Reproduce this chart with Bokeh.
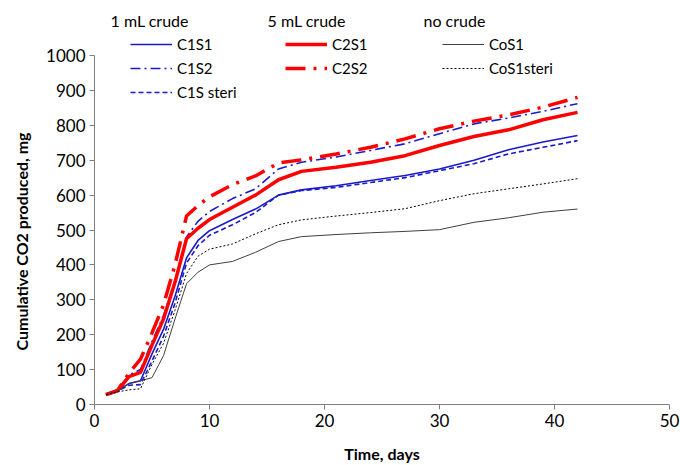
from bokeh.plotting import figure
from bokeh.models import Legend, Label, Range1d, SingleIntervalTicker, Title
from bokeh.embed import file_html
from bokeh.resources import INLINE

# ---- data ----
days = [1, 2, 3, 4, 5, 6, 7, 8, 9, 10, 12, 14, 16, 18, 21, 24, 27, 30, 33, 36, 39, 42]

c1s1 = [28, 40, 60, 68, 145, 215, 310, 420, 470, 498, 530, 560, 600, 615, 627, 642, 656, 675, 700, 730, 752, 771]
c1s2 = [28, 40, 85, 100, 180, 255, 355, 480, 525, 553, 590, 618, 675, 694, 709, 728, 747, 776, 804, 821, 840, 862]
c1s_steri = [28, 38, 55, 57, 125, 195, 290, 405, 455, 485, 515, 550, 600, 613, 622, 636, 650, 670, 690, 718, 737, 756]

c2s1 = [28, 40, 80, 92, 170, 245, 350, 475, 505, 530, 565, 600, 644, 668, 680, 694, 713, 742, 768, 787, 816, 837]
c2s2 = [28, 40, 90, 130, 205, 285, 400, 540, 570, 595, 630, 655, 692, 701, 718, 737, 761, 790, 812, 830, 852, 880]

cos1 = [28, 38, 60, 68, 77, 140, 245, 346, 379, 400, 410, 436, 467, 481, 487, 492, 496, 501, 522, 535, 551, 560]
cos1_steri = [28, 36, 42, 45, 115, 175, 270, 375, 425, 445, 460, 489, 515, 529, 540, 550, 561, 584, 604, 618, 632, 647]

group_titles = ["1 mL crude", "5 mL crude", "no crude"]
x_label = "Time, days"
y_label = "Cumulative CO2 produced, mg"

FONT = "Lato"
BLUE = "#1a1ac8"
RED = "#ff0000"

# frame spans from the top of the canvas down to the x axis (y=404 px);
# the value axis itself only covers 0..1000 (349 px)
FRAME_H = 404
Y_TOP = 1000 * FRAME_H / 349

p = figure(width=680, height=465, output_backend="svg", toolbar_location=None,
           x_range=Range1d(0, 50), y_range=Range1d(0, Y_TOP),
           min_border_left=92, min_border_right=11, min_border_top=0, min_border_bottom=61)
p.xgrid.visible = False
p.ygrid.visible = False
p.outline_line_color = None
p.background_fill_color = "white"
p.border_fill_color = "white"

r11 = p.line(days, c1s1, line_color=BLUE, line_width=1.6)
r12 = p.line(days, c1s2, line_color=BLUE, line_width=1.6, line_dash="10 4 2 4")
r13 = p.line(days, c1s_steri, line_color=BLUE, line_width=1.6, line_dash="5 3")
r21 = p.line(days, c2s1, line_color=RED, line_width=3.5)
r22 = p.line(days, c2s2, line_color=RED, line_width=3.5, line_dash="20 8 3 8")
r31 = p.line(days, cos1, line_color="#404040", line_width=1)
r32 = p.line(days, cos1_steri, line_color="#000000", line_width=1, line_dash="2 2")

for ax in (p.xaxis[0], p.yaxis[0]):
    ax.axis_line_color = "#808080"
    ax.major_tick_line_color = "#808080"
    ax.minor_tick_line_color = None
    ax.major_tick_in = 0
    ax.major_tick_out = 5
    ax.major_label_text_font = FONT
    ax.major_label_text_font_size = "17px"
    ax.major_label_text_color = "black"
    ax.axis_label_text_font = FONT
    ax.axis_label_text_font_size = "16px"
    ax.axis_label_text_font_style = "bold"
    ax.axis_label_text_color = "black"

p.xaxis.ticker = SingleIntervalTicker(interval=10)
p.yaxis.ticker = SingleIntervalTicker(interval=100)
p.yaxis.bounds = (0, 1000)
p.xaxis.axis_label = x_label
p.xaxis.major_label_standoff = 4
p.yaxis.major_label_standoff = 4
p.xaxis.axis_label_standoff = 14

# y-axis title, centred on the 0..1000 part of the axis
p.add_layout(Title(text=y_label, align="left", offset=54, vertical_align="top",
                   text_font=FONT, text_font_size="16px", text_font_style="bold",
                   text_color="black", standoff=22), "left")

groups = [
    [("C1S1", [r11]), ("C1S2", [r12]), ("C1S steri", [r13])],
    [("C2S1", [r21]), ("C2S2", [r22])],
    [("CoS1", [r31]), ("CoS1steri", [r32])],
]
legend_x = [36, 191, 348]
title_x = [16, 173, 329]
legend_bottom = [FRAME_H - 102, FRAME_H - 78, FRAME_H - 78]
for items, lx, ly, tx, title in zip(groups, legend_x, legend_bottom, title_x, group_titles):
    leg = Legend(items=items, location=(lx, ly),
                 orientation="vertical", padding=0, margin=0, spacing=4,
                 glyph_width=42, glyph_height=20, label_height=20, label_standoff=5,
                 label_text_font=FONT, label_text_font_size="15px", label_text_color="black",
                 border_line_color=None, background_fill_alpha=0)
    p.add_layout(leg, "center")
    p.add_layout(Label(x=tx, y=FRAME_H - 20, x_units="screen", y_units="screen",
                       text=title, text_font=FONT, text_font_size="16px",
                       text_baseline="middle", text_color="black"))

open("out.html", "w").write(file_html(p, INLINE))
